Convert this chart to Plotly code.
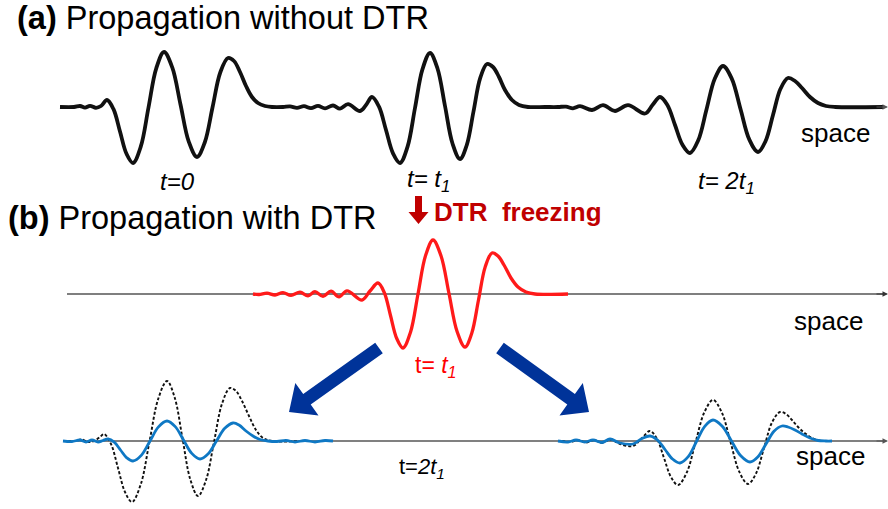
import numpy as np
import plotly.graph_objects as go

W, H = 888, 509
FONT = "Liberation Sans, Arial, sans-serif"

# ---------- data (pixel coordinates) ----------
# (a) black pulse train, three snapshots t=0, t1, 2t1
A_X = [60, 74, 80, 85, 90, 96, 101, 107,
       113.5, 120, 126.5, 133, 140.75, 148.5, 156.25, 164, 172.25, 180.5, 188.75, 197, 204.75, 212.5, 220.25, 228,
       234, 240, 246, 252, 258, 265, 272,
       283, 290, 297, 304, 311, 318, 325, 333, 340, 348, 360, 366, 372,
       379, 386, 393, 400, 407.5, 415, 422.5, 430, 437.5, 445, 452.5, 460, 466.75, 473.5, 480.25, 487,
       493, 499, 505, 512, 519, 528, 545,
       558, 566, 573, 580, 592, 603, 615, 628, 645, 652.5, 660,
       667.5, 675, 682.5, 690, 698.25, 706.5, 714.75, 723, 731.75, 740.5, 749.25, 758, 765.5, 773, 780.5, 788,
       795, 802, 810, 818, 826, 835, 883]
A_Y = [107, 107, 106, 107.6, 105.8, 107.8, 106, 100,
       109.2, 131.5, 153.8, 163, 146.7, 107.5, 68.3, 52, 67.4, 104.5, 141.6, 157, 142.5, 107.5, 72.5, 58,
       61, 72, 86, 97, 103, 106, 107,
       107, 106.4, 107.8, 106.2, 108.1, 105.9, 108.3, 105.5, 108.6, 104.2, 111, 105, 97,
       106.7, 130, 153.3, 163, 146.9, 108, 69.1, 53, 68.5, 106, 143.5, 159, 145.1, 111.5, 77.9, 64,
       67, 77, 90, 100, 105, 107, 107,
       107, 106.6, 108.3, 106.2, 110, 105.2, 111, 105.2, 113.5, 105, 97,
       105.2, 125, 144.8, 153, 140.3, 109.5, 78.7, 66, 78.6, 109, 139.4, 152, 141.2, 115, 88.8, 78,
       81, 88, 97, 103, 106, 107, 107]

# (b) red pulse frozen at t = t1
R_X = [253, 259, 267, 275, 283, 291, 300, 308, 315, 323, 331, 339, 347, 362, 370, 378,
       384.25, 390.5, 396.75, 403, 410.5, 418, 425.5, 433, 441, 449, 457, 465, 471.75, 478.5, 485.25, 492,
       498, 504, 511, 518, 526, 535, 568]
R_Y = [294, 294.5, 293.2, 295, 292.7, 295.4, 292.2, 295.8, 291.7, 296.3, 291.2, 296.8, 290.8, 300, 291, 283,
       292.5, 315.5, 338.5, 348, 332.2, 294, 255.8, 240, 255.7, 293.5, 331.3, 347, 333.2, 300, 266.8, 253,
       256, 265, 278, 287, 292, 294, 294]

# (b) t = 2t1, left-going pulse: original (dashed) and DTR (blue)
LD_X = [63, 75, 82, 88, 94, 100, 104, 111, 118, 125, 132, 140.75, 149.5, 158.25, 167, 174.75, 182.5, 190.25,
        198, 206, 214, 222, 230, 236, 242, 249, 256, 263, 272, 300]
LD_Y = [441, 441, 439.5, 442, 441, 437, 434, 444, 468, 492, 502, 484.3, 441.5, 398.7, 381, 397.8, 438.5, 479.2,
        496, 480.2, 442, 403.8, 388, 391, 401, 416, 430, 438, 441, 441]
LB_X = [63, 72, 80, 86, 92, 98, 103, 108, 114.25, 120.5, 126.75, 133, 141.5, 150, 158.5, 167, 175.25, 183.5,
        191.75, 200, 208.25, 216.5, 224.75, 233, 239, 246, 253, 260, 268, 277, 286, 295, 305, 315, 325, 333]
LB_Y = [441, 441.5, 440, 442, 440, 442, 440.5, 439, 442.2, 450, 457.8, 461, 455.1, 441, 426.9, 421, 426.6, 440,
        453.4, 459, 453.7, 441, 428.3, 423, 425, 431, 436, 439.5, 441, 441.5, 440.5, 442, 440.5, 442, 440.5, 441]

# (b) t = 2t1, right-going pulse
RD_X = [562, 570, 578, 586, 594, 602, 610, 620, 633, 642, 650, 657, 664, 671, 678, 686.75, 695.5, 704.25, 713,
        721.75, 730.5, 739.25, 748, 756, 764, 772, 780, 786, 792, 799, 806, 814, 823, 830]
RD_Y = [441, 442, 440, 442.5, 440, 443, 439.5, 444, 446, 438, 431, 438.9, 458, 477.1, 485, 472.5, 442.5, 412.5, 400,
        412.3, 442, 471.7, 484, 473.5, 448, 422.5, 412, 414, 420, 428, 434, 439, 441, 441]
RB_X = [558, 568, 576, 585, 593, 602, 610, 620, 633, 642, 650, 657.5, 665, 672.5, 680, 688.25, 696.5, 704.75, 713,
        722.25, 731.5, 740.75, 750, 758, 766, 774, 782, 788, 795, 802, 810, 818, 826, 832]
RB_Y = [441, 442, 440, 442, 440, 442.5, 439, 443, 444, 438.5, 436, 440, 449.5, 459, 463, 456.7, 441.5, 426.3, 420,
        426.2, 441, 455.8, 462, 456.7, 444, 431.3, 426, 427, 430, 434, 438, 440.5, 441, 441]

fig = go.Figure()

def line(x, y, color, width, dash="solid"):
    fig.add_trace(go.Scatter(x=x, y=y, mode="lines", line=dict(color=color, width=width, dash=dash,
                                                               shape="spline", smoothing=1),
                             hoverinfo="skip", showlegend=False))

# axis lines
line([67, 883], [294, 294], "#555555", 1.3)
line([63, 883], [441, 441], "#808080", 2.2)

line(A_X, A_Y, "#111111", 3.8)
line(R_X, R_Y, "#ff1a1a", 3.3)
line(LD_X, LD_Y, "#111111", 1.9, "3px,2px")
line(RD_X, RD_Y, "#111111", 1.9, "3px,2px")
line(LB_X, LB_Y, "#0f78c4", 2.8)
line(RB_X, RB_Y, "#0f78c4", 2.8)

anns = []
# small axis arrow heads
for yy, col in [(107, "#555555"), (294, "#333333"), (441, "#555555")]:
    anns.append(dict(x=888, y=yy, ax=875, ay=yy, xref="x", yref="y", axref="x", ayref="y",
                     showarrow=True, arrowhead=2, arrowsize=1.0, arrowwidth=1.1, arrowcolor=col, text=""))

def txt(x, y, s, size, color="black", xanchor="center"):
    anns.append(dict(x=x, y=y, xref="x", yref="y", text=s, showarrow=False, xanchor=xanchor, yanchor="middle",
                     font=dict(family=FONT, size=size, color=color)))

txt(15, 18, "<b>(a)</b> Propagation without DTR", 32.5, xanchor="left")
txt(6, 218, "<b>(b)</b> Propagation with DTR", 32.5, xanchor="left")
txt(177, 181, "<i>t=0</i>", 24)
txt(428, 180, "<i>t= t<sub>1</sub></i>", 24)
txt(726, 182, "<i>t= 2t<sub>1</sub></i>", 24)
txt(835, 133, "space", 26)
txt(828, 321, "space", 26)
txt(830, 456, "space", 26)
txt(518, 212, "<b>DTR  freezing</b>", 26, color="#c00000")
txt(436, 366, "t= <i>t<sub>1</sub></i>", 23, color="#ff0000")
txt(422, 468, "t=<i>2t<sub>1</sub></i>", 22)

shapes = []

def block_arrow(T, P, w, hw, hl, color):
    T = np.array(T, float); P = np.array(P, float)
    u = (P - T) / np.linalg.norm(P - T)
    n = np.array([-u[1], u[0]])
    B = P - u * hl
    pts = [T + n * w, B + n * w, B + n * hw, P, B - n * hw, B - n * w, T - n * w]
    path = "M " + " L ".join(f"{p[0]:.1f},{p[1]:.1f}" for p in pts) + " Z"
    shapes.append(dict(type="path", path=path, xref="x", yref="y", fillcolor=color, line=dict(width=0)))

block_arrow((379, 348), (289, 412), 6.5, 20, 22, "#003399")
block_arrow((500, 348), (589, 412), 6.5, 20, 22, "#003399")
# red freezing arrow
block_arrow((418.5, 196), (418.5, 224), 3.5, 10, 12, "#c00000")

fig.update_layout(
    width=W, height=H, margin=dict(l=0, r=0, t=0, b=0),
    paper_bgcolor="white", plot_bgcolor="white",
    xaxis=dict(range=[0, W], visible=False, fixedrange=True),
    yaxis=dict(range=[H, 0], visible=False, fixedrange=True),
    annotations=anns, shapes=shapes, showlegend=False,
)
fig.write_html("out.html", config={"displayModeBar": False})
